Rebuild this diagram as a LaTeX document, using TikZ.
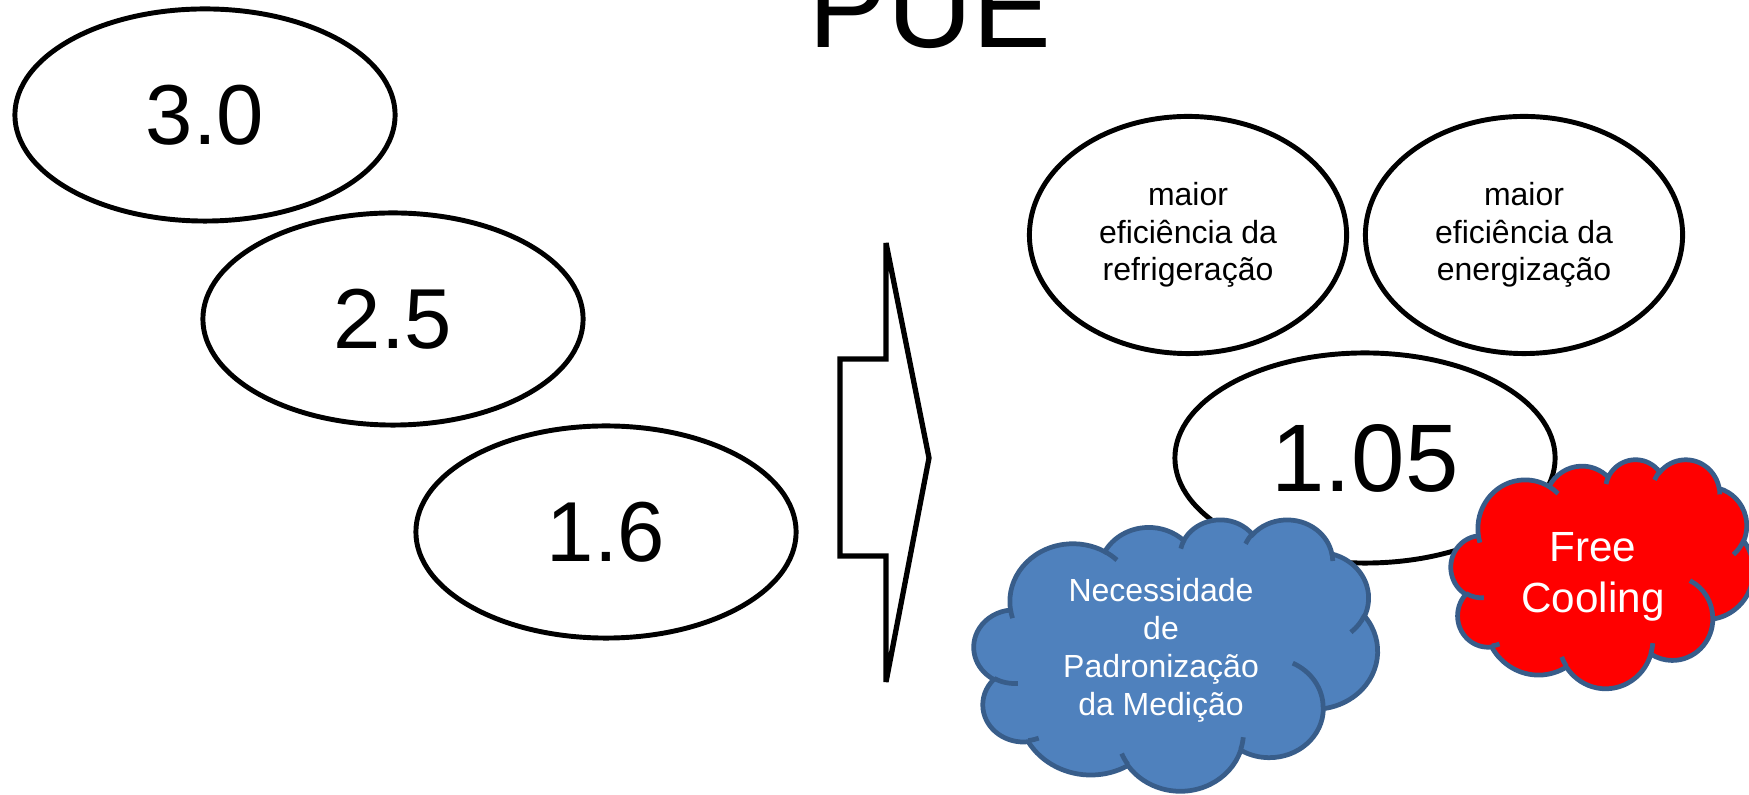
\documentclass[tikz,border=0pt]{standalone}
\usepackage{fontspec}
\setmainfont{Liberation Sans}
\usetikzlibrary{shapes.geometric}
\definecolor{cloudblue}{HTML}{4F81BD}
\definecolor{cloudrim}{HTML}{385D8A}
\definecolor{coolred}{HTML}{FF0000}
\begin{document}
\begin{tikzpicture}[
    x=0.01cm, y=-0.01cm,
    oval/.style={draw, line width=1.4pt, fill=white, ellipse, inner sep=0pt},
    bignum/.style={oval, minimum width=3.8cm, minimum height=2.12cm, font=\fontsize{24.2}{29}\selectfont},
    smalloval/.style={oval, minimum width=3.17cm, minimum height=2.37cm, align=center, font=\fontsize{9.1}{10.7}\selectfont},
    cloudtext/.style={text=white, align=center},
    puffcloud/.pic={
        \path[pic actions, draw=cloudrim, line width=1.35pt] (3.9,14.37)
            foreach \rx/\ry/\sa/\da in {6.753/9.190/-190.487/123.781, 5.333/7.267/-144.102/89.945,
                4.365/5.945/-145.808/99.723, 4.857/6.595/-130.986/117.242, 5.333/7.273/-78.709/109.027,
                6.775/9.220/-46.267/130.269, 5.785/7.867/0.625/114.033, 6.752/9.215/22.452/115.173,
                7.720/10.543/66.243/75.711, 4.360/5.918/-274.942/146.736, 4.345/5.945/-246.829/152.519}{
                arc[start angle={atan2(\rx*sin(\sa),\ry*cos(\sa))},
                    delta angle={Mod(atan2(\rx*sin(\sa+\da),\ry*cos(\sa+\da))-atan2(\rx*sin(\sa),\ry*cos(\sa)),360)},
                    x radius=\rx, y radius=\ry]
            } -- cycle;
        \foreach \ax/\ay/\rx/\ry/\sa/\da in {4.693/26.177/4.345/5.945/86.742/26.430, 6.928/34.899/4.360/5.918/73.611/11.448,
                16.478/39.090/6.752/9.215/137.624/14.081, 28.827/34.751/6.752/9.215/6.453/15.998,
                34.129/22.954/5.785/7.867/-70.292/70.917, 41.798/15.354/5.333/7.273/30.318/27.752,
                38.324/5.426/4.857/6.595/-13.744/14.859, 29.078/3.952/4.857/6.595/-149.182/18.195,
                22.141/4.720/4.365/5.945/-163.494/17.686, 14.000/5.192/6.753/9.190/-66.707/12.319,
                4.127/15.789/6.753/9.190/157.654/11.858}
            \draw[cloudrim, line width=1.35pt] (\ax,\ay)
                arc[start angle={atan2(\rx*sin(\sa),\ry*cos(\sa))},
                    delta angle={Mod(atan2(\rx*sin(\sa+\da),\ry*cos(\sa+\da))-atan2(\rx*sin(\sa),\ry*cos(\sa)),360)},
                    x radius=\rx, y radius=\ry];
    }
]
    \useasboundingbox (0,0) rectangle (1749,795);
    \clip (0,0) rectangle (1749,795);
    \node[font=\fontsize{33.6}{40}\selectfont, anchor=base] (titulo) at (930,48) {PUE};
    \node[bignum] (pue30) at (205,115) {3.0};
    \node[bignum] (pue25) at (393,319) {2.5};
    \node[bignum] (pue16) at (606,532) {1.6};
    \draw[line width=1.5pt, fill=white] (840,359) -- (886,359) -- (886,243) -- (929,458)
        -- (886,682) -- (886,556) -- (840,556) -- cycle;
    \node[smalloval] (refrig) at (1188,235) {maior\\eficiência da\\refrigeração};
    \node[smalloval] (energ) at (1524,235) {maior\\eficiência da\\energização};
    \node[oval, minimum width=3.8cm, minimum height=2.1cm, font=\fontsize{27.3}{33}\selectfont] (pue105) at (1365,458) {1.05};
    \pic[xscale=9.34, yscale=6.28, fill=cloudblue] at (974,519) {puffcloud};
    \node[cloudtext, font=\fontsize{9.1}{10.8}\selectfont] (padron) at (1161,650) {Necessidade\\de\\Padronização\\da Medição};
    \pic[xscale=7.0, yscale=5.3, fill=coolred] at (1451,459) {puffcloud};
    \node[cloudtext, font=\fontsize{12}{14.5}\selectfont] (freecool) at (1593,577) {Free\\Cooling};
\end{tikzpicture}
\end{document}
